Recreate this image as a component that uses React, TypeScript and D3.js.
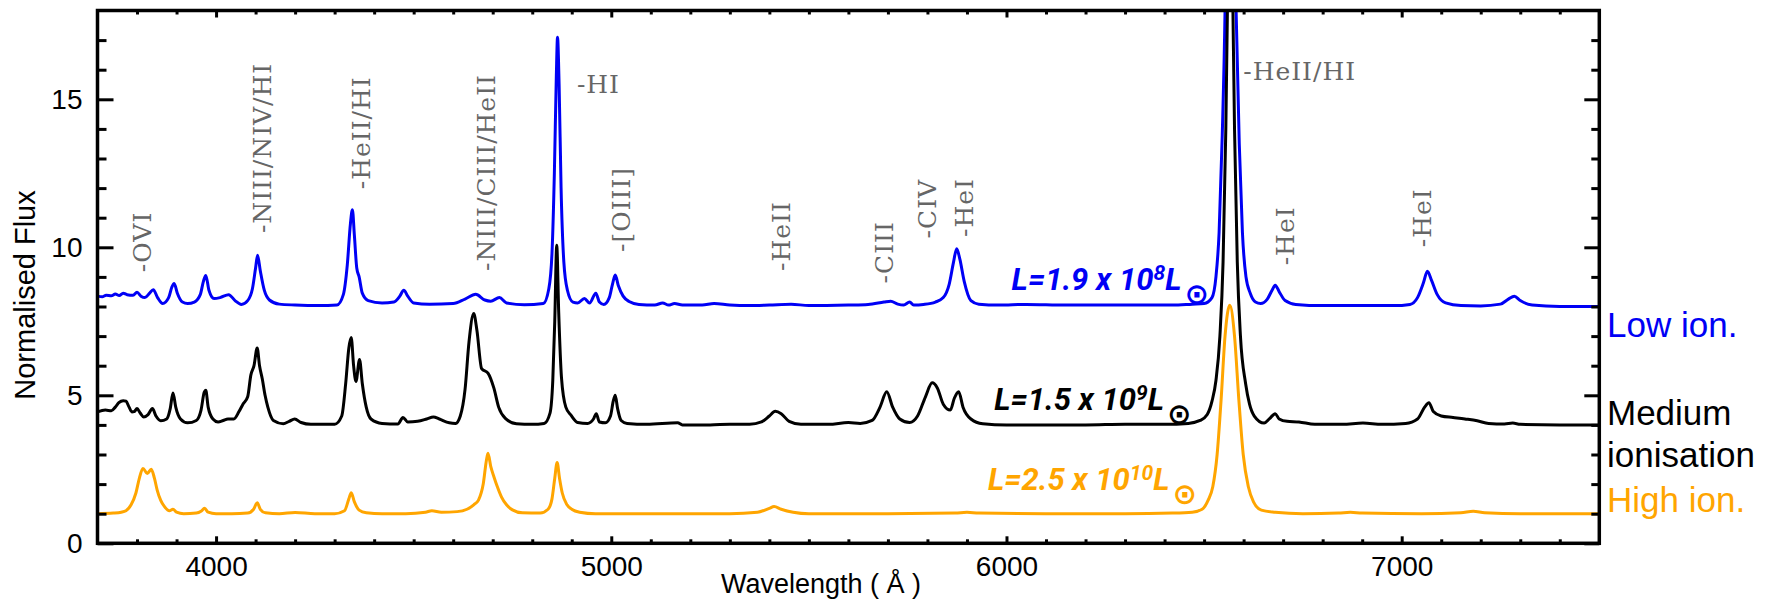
import { useEffect, useRef } from "react"
import * as d3 from "d3"

// spectra: [wavelength (A), normalised flux]
const lowIon: [number, number][] = [
  [3700, 8.35], [3712, 8.33], [3722, 8.38], [3735, 8.36], [3745, 8.42], [3755, 8.37], [3765, 8.45],
  [3775, 8.4], [3790, 8.38], [3800, 8.48], [3810, 8.35], [3820, 8.3], [3832, 8.45], [3841, 8.57],
  [3852, 8.3], [3865, 8.1], [3880, 8.3], [3888, 8.65], [3894, 8.78], [3902, 8.45], [3915, 8.15],
  [3928, 8.1], [3945, 8.15], [3960, 8.4], [3968, 8.85], [3974, 9.05], [3982, 8.55], [3995, 8.27],
  [4010, 8.3], [4032, 8.4], [4048, 8.2], [4064, 8.07], [4080, 8.2], [4092, 8.6], [4100, 9.3],
  [4105, 9.73], [4112, 9.2], [4122, 8.55], [4135, 8.22], [4160, 8.08], [4200, 8.05], [4260, 8.03],
  [4306, 8.05], [4322, 8.4], [4332, 9.4], [4340, 10.8], [4345, 11.27], [4350, 10.4], [4356, 9.3],
  [4362, 9.0], [4370, 8.45], [4385, 8.2], [4420, 8.12], [4450, 8.15], [4465, 8.35], [4475, 8.55],
  [4485, 8.35], [4500, 8.12], [4540, 8.08], [4600, 8.1], [4630, 8.25], [4657, 8.41], [4680, 8.22],
  [4695, 8.18], [4717, 8.3], [4735, 8.12], [4780, 8.06], [4828, 8.1], [4842, 8.6], [4850, 9.8],
  [4856, 12.5], [4861, 15.8], [4864, 17.1], [4868, 15.5], [4873, 12.0], [4880, 9.5], [4889, 8.55],
  [4903, 8.15], [4915, 8.12], [4932, 8.27], [4945, 8.12], [4961, 8.45], [4970, 8.15], [4981, 8.07],
  [4995, 8.3], [5003, 8.75], [5010, 9.06], [5018, 8.7], [5030, 8.35], [5045, 8.17], [5070, 8.07],
  [5110, 8.05], [5130, 8.12], [5145, 8.05], [5160, 8.1], [5180, 8.05], [5230, 8.05], [5260, 8.1],
  [5300, 8.05], [5350, 8.03], [5400, 8.05], [5455, 8.08], [5500, 8.03], [5600, 8.05], [5650, 8.07],
  [5690, 8.15], [5707, 8.18], [5725, 8.08], [5740, 8.05], [5755, 8.15], [5765, 8.05], [5790, 8.07],
  [5820, 8.15], [5840, 8.3], [5855, 8.75], [5866, 9.5], [5874, 9.95], [5882, 9.6], [5893, 8.85],
  [5910, 8.2], [5930, 8.08], [5980, 8.05], [6050, 8.07], [6150, 8.05], [6250, 8.05], [6350, 8.05],
  [6420, 8.05], [6470, 8.08], [6500, 8.1], [6520, 8.3], [6530, 9.0], [6538, 10.5], [6546, 13.8],
  [6553, 18], [6560, 26], [6566, 32], [6572, 26], [6581, 18], [6589, 13.5], [6597, 10.5],
  [6606, 9.0], [6617, 8.44], [6630, 8.15], [6643, 8.1], [6660, 8.25], [6672, 8.55], [6680, 8.72],
  [6690, 8.5], [6705, 8.2], [6732, 8.07], [6800, 8.03], [6900, 8.03], [6980, 8.03], [7021, 8.07],
  [7040, 8.3], [7055, 8.8], [7065, 9.19], [7075, 8.9], [7090, 8.4], [7111, 8.12], [7150, 8.03],
  [7200, 8.02], [7250, 8.08], [7270, 8.25], [7285, 8.35], [7300, 8.2], [7330, 8.05], [7400, 8.0],
  [7500, 8.0],
]

const mediumIon: [number, number][] = [
  [3700, 4.44], [3720, 4.5], [3735, 4.48], [3745, 4.6], [3754, 4.75], [3765, 4.82], [3772, 4.8],
  [3780, 4.6], [3787, 4.44], [3793, 4.45], [3800, 4.55], [3808, 4.4], [3817, 4.27], [3828, 4.35],
  [3839, 4.55], [3848, 4.3], [3860, 4.14], [3875, 4.2], [3884, 4.55], [3891, 5.08], [3898, 4.6],
  [3910, 4.2], [3928, 4.07], [3950, 4.15], [3962, 4.5], [3970, 5.1], [3974, 5.17], [3980, 4.6],
  [3992, 4.2], [4005, 4.1], [4018, 4.15], [4030, 4.2], [4045, 4.2], [4058, 4.45], [4068, 4.7],
  [4080, 4.95], [4088, 5.68], [4096, 6.0], [4104, 6.6], [4110, 6.0], [4117, 5.55], [4124, 5.0],
  [4131, 4.6], [4145, 4.15], [4170, 4.04], [4185, 4.12], [4199, 4.2], [4215, 4.08], [4240, 4.02],
  [4300, 4.02], [4318, 4.3], [4328, 5.4], [4336, 6.6], [4342, 6.95], [4348, 6.0], [4354, 5.47],
  [4363, 6.21], [4370, 5.4], [4380, 4.6], [4392, 4.2], [4420, 4.05], [4460, 4.03], [4473, 4.25],
  [4485, 4.1], [4510, 4.12], [4533, 4.2], [4550, 4.27], [4565, 4.2], [4590, 4.07], [4606, 4.05],
  [4618, 4.3], [4630, 5.2], [4640, 6.8], [4652, 7.76], [4660, 7.2], [4672, 5.9], [4688, 5.75],
  [4703, 5.24], [4715, 4.6], [4732, 4.22], [4760, 4.04], [4800, 4.02], [4830, 4.05], [4845, 4.4],
  [4852, 5.5], [4857, 7.5], [4862, 10.07], [4867, 7.8], [4874, 5.6], [4885, 4.6], [4898, 4.33],
  [4915, 4.08], [4940, 4.05], [4955, 4.2], [4962, 4.38], [4970, 4.1], [4985, 4.07], [4998, 4.3],
  [5005, 4.8], [5010, 5.0], [5016, 4.55], [5025, 4.15], [5040, 4.05], [5090, 4.02], [5168, 4.07],
  [5180, 4.0], [5250, 4.0], [5300, 4.02], [5350, 4.02], [5380, 4.1], [5400, 4.3], [5415, 4.46],
  [5430, 4.38], [5450, 4.12], [5480, 4.02], [5550, 4.02], [5600, 4.08], [5630, 4.05], [5660, 4.15],
  [5680, 4.6], [5697, 5.12], [5712, 4.6], [5730, 4.2], [5755, 4.08], [5775, 4.3], [5795, 4.95],
  [5812, 5.42], [5825, 5.25], [5840, 4.7], [5858, 4.5], [5868, 4.9], [5879, 5.12], [5890, 4.6],
  [5910, 4.2], [5940, 4.04], [6000, 4.0], [6100, 4.0], [6200, 4.0], [6300, 4.02], [6400, 4.02],
  [6460, 4.05], [6490, 4.15], [6508, 4.35], [6520, 4.8], [6530, 5.5], [6540, 7.0], [6548, 9.5],
  [6555, 14.0], [6560, 19], [6566, 24], [6572, 19], [6577, 14], [6584, 9.5], [6592, 7.0],
  [6605, 5.4], [6615, 4.7], [6627, 4.3], [6652, 4.06], [6665, 4.2], [6680, 4.38], [6690, 4.2],
  [6710, 4.12], [6740, 4.1], [6780, 4.02], [6850, 4.02], [6902, 4.06], [6950, 4.02], [7010, 4.05],
  [7040, 4.2], [7058, 4.6], [7069, 4.75], [7080, 4.45], [7100, 4.3], [7130, 4.25], [7160, 4.2],
  [7191, 4.14], [7220, 4.05], [7260, 4.03], [7281, 4.06], [7300, 4.02], [7400, 4.0], [7500, 4.0],
]

const highIon: [number, number][] = [
  [3700, 1.0], [3740, 1.02], [3760, 1.05], [3772, 1.1], [3785, 1.3], [3797, 1.69], [3806, 2.2],
  [3815, 2.53], [3826, 2.36], [3836, 2.5], [3844, 2.2], [3851, 1.8], [3860, 1.45], [3870, 1.23],
  [3882, 1.1], [3891, 1.15], [3900, 1.05], [3918, 1.0], [3950, 1.02], [3962, 1.08], [3971, 1.18],
  [3980, 1.05], [4000, 1.0], [4040, 1.0], [4080, 1.02], [4095, 1.15], [4104, 1.37], [4112, 1.15],
  [4125, 1.03], [4160, 1.0], [4200, 1.04], [4250, 1.0], [4300, 1.0], [4325, 1.1], [4336, 1.5],
  [4342, 1.71], [4350, 1.4], [4362, 1.12], [4380, 1.03], [4420, 1.0], [4480, 1.0], [4530, 1.05],
  [4546, 1.1], [4570, 1.05], [4610, 1.07], [4635, 1.15], [4652, 1.3], [4664, 1.46], [4676, 2.0],
  [4684, 2.8], [4688, 3.04], [4695, 2.6], [4703, 2.25], [4712, 1.9], [4722, 1.57], [4735, 1.3],
  [4750, 1.13], [4775, 1.03], [4820, 1.02], [4840, 1.15], [4850, 1.5], [4857, 2.2], [4863, 2.73],
  [4869, 2.2], [4876, 1.7], [4888, 1.3], [4900, 1.15], [4920, 1.05], [4960, 1.0], [5100, 1.0],
  [5300, 1.0], [5370, 1.05], [5400, 1.18], [5412, 1.24], [5430, 1.15], [5460, 1.05], [5500, 1.0],
  [5700, 1.0], [5870, 1.02], [5900, 1.05], [5930, 1.02], [6100, 1.0], [6300, 1.0], [6420, 1.02],
  [6470, 1.05], [6495, 1.15], [6510, 1.45], [6522, 1.91], [6533, 3.0], [6543, 4.84], [6553, 7.0],
  [6565, 8.04], [6577, 7.0], [6588, 4.84], [6599, 3.0], [6612, 1.91], [6625, 1.4], [6645, 1.12],
  [6680, 1.05], [6750, 1.0], [6840, 1.02], [6870, 1.05], [6900, 1.02], [7050, 1.0], [7150, 1.03],
  [7181, 1.08], [7210, 1.03], [7300, 1.0], [7500, 1.0],
]

const xTicks = [4000, 5000, 6000, 7000]
const yTicks = [0, 5, 10, 15]

// line identifications: text, wavelength, flux at foot of label, rotated?
const lineNames = ["-OVI", "-NIII/NIV/HI", "-HeII/HI", "-NIII/CIII/HeII", "-HI", "-[OIII]", "-HeII",
  "-CIII", "-CIV", "-HeI", "-HeII/HI", "-HeI", "-HeI"]
const lineWave = [3813, 4116, 4367, 4683, 4913, 5025, 5430, 5690, 5799, 5893, 6599, 6705, 7052]
const lineFlux = [9.16, 10.48, 11.96, 9.2, 15.2, 9.84, 9.2, 8.78, 10.3, 10.35, 15.64, 9.39, 10.0]
const lineRotated = [true, true, true, true, false, true, true, true, true, true, false, true, true]

const series = [
  { name: "low", data: lowIon, color: "#0000f5", lum: ["L=1.9 x 10", "8"], lumWave: 6013, lumFlux: 8.56 },
  { name: "medium", data: mediumIon, color: "#000000", lum: ["L=1.5 x 10", "9"], lumWave: 5969, lumFlux: 4.5 },
  { name: "high", data: highIon, color: "#ffa500", lum: ["L=2.5 x 10", "10"], lumWave: 5953, lumFlux: 1.8 },
]

const rightLabels = [
  { text: "Low ion.", color: "#0000f5", y: 337 },
  { text: "Medium", color: "#000000", y: 425 },
  { text: "ionisation", color: "#000000", y: 467 },
  { text: "High ion.", color: "#ffa500", y: 512 },
]

const SpectraChart = () => {
  const svgRef = useRef<SVGSVGElement>(null)

  useEffect(() => {
    const svg = d3.select(svgRef.current)
    svg.selectAll("*").remove()

    const left = 97.5
    const right = 1599.3
    const top = 10.5
    const bottom = 543.3

    const x = d3.scaleLinear().domain([3700, 7500]).range([left, right])
    const y = d3.scaleLinear().domain([0, 18]).range([bottom, top])

    svg
      .append("clipPath")
      .attr("id", "plot-clip")
      .append("rect")
      .attr("x", left)
      .attr("y", top)
      .attr("width", right - left)
      .attr("height", bottom - top)

    // spectra
    const line = d3
      .line<[number, number]>()
      .x((d) => x(d[0]))
      .y((d) => y(d[1]))
      .curve(d3.curveMonotoneX)

    series.forEach((s) => {
      svg
        .append("path")
        .datum(s.data)
        .attr("clip-path", "url(#plot-clip)")
        .attr("fill", "none")
        .attr("stroke", s.color)
        .attr("stroke-width", 3)
        .attr("stroke-linejoin", "round")
        .attr("d", line)
    })

    // luminosity annotations
    series.forEach((s) => {
      const t = svg
        .append("text")
        .attr("x", x(s.lumWave))
        .attr("y", y(s.lumFlux))
        .attr("fill", s.color)
        .style("font-family", "Roboto, 'Open Sans', sans-serif")
        .style("font-weight", "bold")
        .style("font-style", "italic")
        .style("font-size", "31px")
      t.append("tspan").text(s.lum[0])
      t.append("tspan").attr("dy", -10).style("font-size", "21px").text(s.lum[1])
      t.append("tspan").attr("dy", 10).text("L")
      t.append("tspan")
        .attr("dx", 3)
        .attr("dy", 14)
        .style("font-size", "29px")
        .style("font-style", "normal")
        .style("font-weight", "bold")
        .style("font-family", "'DejaVu Sans', sans-serif")
        .text("⊙")
    })

    // line identifications
    lineNames.forEach((name, i) => {
      const px = x(lineWave[i])
      const py = y(lineFlux[i])
      const t = svg
        .append("text")
        .attr("fill", "#666666")
        .style("font-family", "'DejaVu Serif', serif")
        .style("font-size", "25px")
        .style("letter-spacing", "1px")
        .text(name)
      if (lineRotated[i]) {
        t.attr("transform", `translate(${px + 9},${py}) rotate(-90)`)
      } else {
        t.attr("x", px).attr("y", py)
      }
    })

    // axes
    const font = "'Liberation Sans', Arial, Helvetica, sans-serif"
    const minorX = d3.range(3800, 7500, 100).filter((v) => v % 1000 !== 0)
    const minorY = d3.range(1, 18, 1).filter((v) => v % 5 !== 0)

    const axisGroups = [
      svg.append("g").attr("transform", `translate(0,${bottom})`).call(
        d3.axisBottom(x).tickValues(xTicks).tickSizeInner(-7).tickSizeOuter(0).tickPadding(13).tickFormat(d3.format("d")),
      ),
      svg.append("g").attr("transform", `translate(0,${bottom})`).call(
        d3.axisBottom(x).tickValues(minorX).tickSizeInner(-4).tickSizeOuter(0).tickFormat(() => ""),
      ),
      svg.append("g").attr("transform", `translate(0,${top})`).call(
        d3.axisTop(x).tickValues(xTicks).tickSizeInner(-7).tickSizeOuter(0).tickFormat(() => ""),
      ),
      svg.append("g").attr("transform", `translate(0,${top})`).call(
        d3.axisTop(x).tickValues(minorX).tickSizeInner(-4).tickSizeOuter(0).tickFormat(() => ""),
      ),
      svg.append("g").attr("transform", `translate(${left},0)`).call(
        d3.axisLeft(y).tickValues(yTicks).tickSizeInner(-16).tickSizeOuter(0).tickPadding(15),
      ),
      svg.append("g").attr("transform", `translate(${left},0)`).call(
        d3.axisLeft(y).tickValues(minorY).tickSizeInner(-9).tickSizeOuter(0).tickFormat(() => ""),
      ),
      svg.append("g").attr("transform", `translate(${right},0)`).call(
        d3.axisRight(y).tickValues(yTicks).tickSizeInner(-15).tickSizeOuter(0).tickFormat(() => ""),
      ),
      svg.append("g").attr("transform", `translate(${right},0)`).call(
        d3.axisRight(y).tickValues(minorY).tickSizeInner(-8).tickSizeOuter(0).tickFormat(() => ""),
      ),
    ]
    axisGroups.forEach((g) => {
      g.select(".domain").remove()
      g.selectAll("line").attr("stroke", "#000").attr("stroke-width", 3)
      g.selectAll("text").attr("fill", "#000").style("font-family", font).style("font-size", "28px")
    })

    // frame
    svg
      .append("rect")
      .attr("x", left)
      .attr("y", top)
      .attr("width", right - left)
      .attr("height", bottom - top)
      .attr("fill", "none")
      .attr("stroke", "#000")
      .attr("stroke-width", 3.5)

    // axis titles
    svg
      .append("text")
      .attr("x", 821)
      .attr("y", 593)
      .attr("text-anchor", "middle")
      .style("font-family", font)
      .style("font-size", "27px")
      .text("Wavelength ( Å )")

    svg
      .append("text")
      .attr("transform", `translate(35,295) rotate(-90)`)
      .attr("text-anchor", "middle")
      .style("font-family", font)
      .style("font-size", "29px")
      .text("Normalised Flux")

    // ionisation labels on the right
    rightLabels.forEach((l) => {
      svg
        .append("text")
        .attr("x", 1607)
        .attr("y", l.y)
        .attr("fill", l.color)
        .style("font-family", font)
        .style("font-size", "35px")
        .text(l.text)
    })
  }, [])

  return (
    <svg
      ref={svgRef}
      width={1768}
      height={601}
      style={{ position: "absolute", left: 0, top: 0, background: "#fff" }}
    ></svg>
  )
}

export default function App() {
  return <SpectraChart />
}
